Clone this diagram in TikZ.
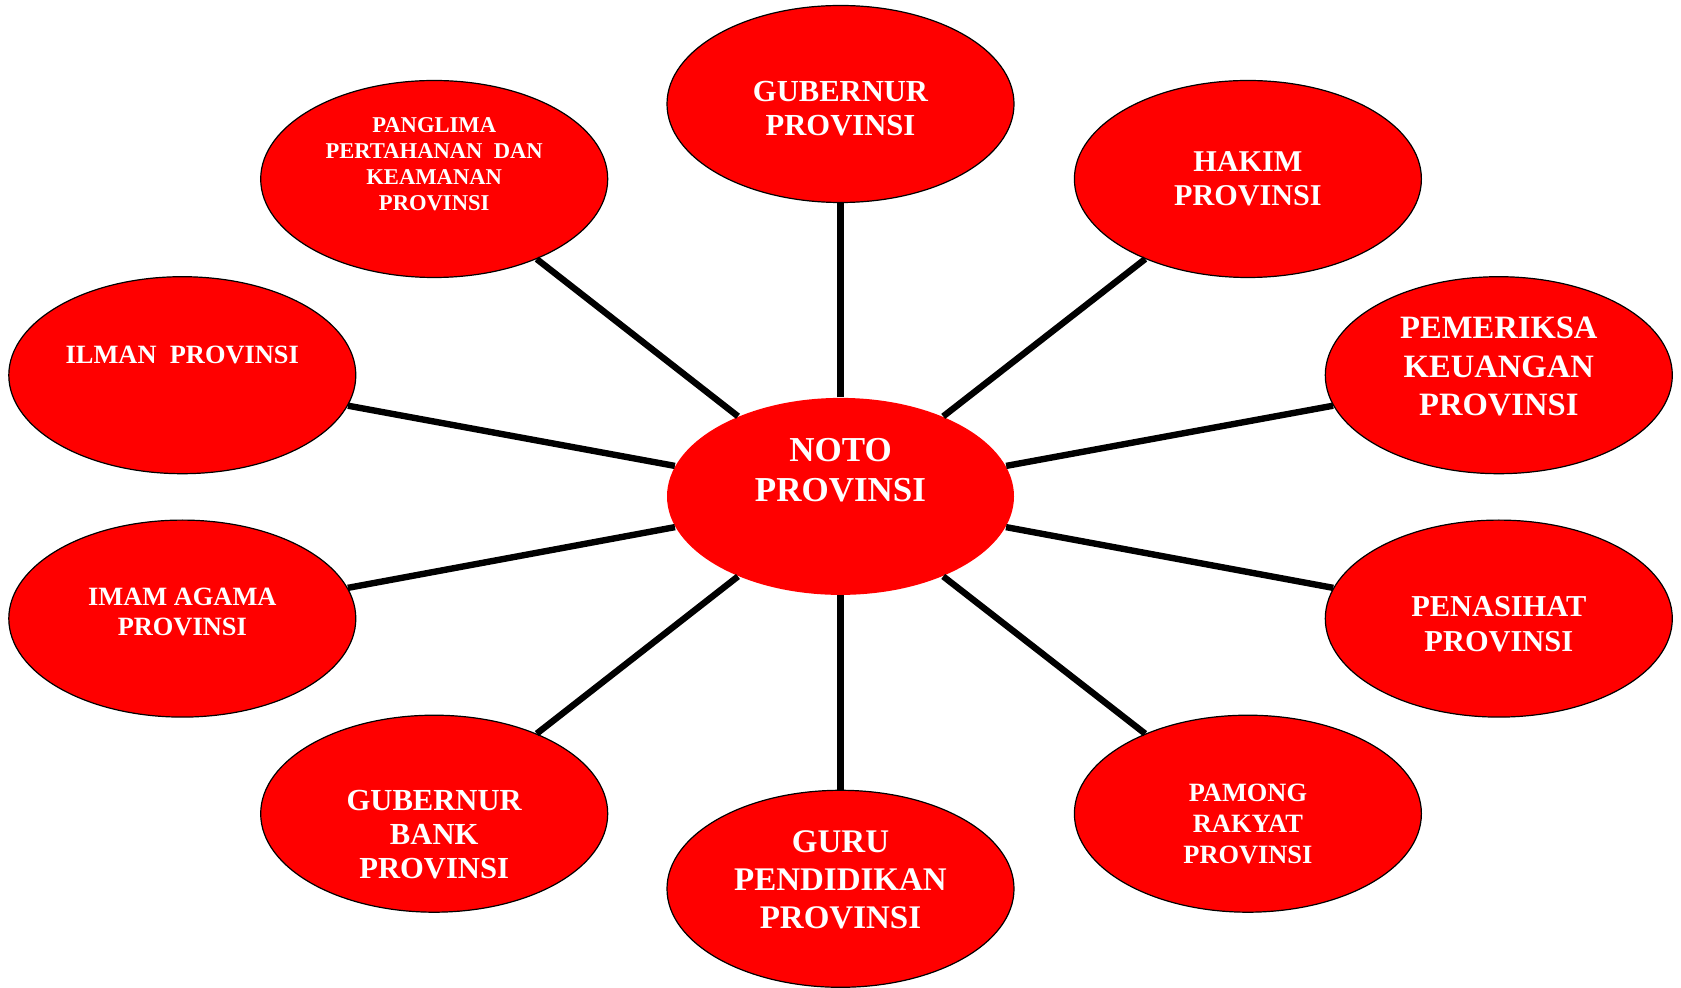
\documentclass[tikz,border=0pt]{standalone}
\usepackage{fontspec}
\setmainfont{Liberation Serif}
\usetikzlibrary{shapes.geometric}
\tikzset{
    bubble/.style = {ellipse, draw = black, line width = 0.6pt, fill = red,
        minimum width = 173.5pt, minimum height = 98.5pt, inner sep = 0pt},
    caption/.style = {text = white, align = center, inner sep = 0pt},
    spoke/.style = {line width = 3.2pt}
}
\newcommand{\capfont}[2]{\bfseries\fontsize{#1}{#2}\selectfont}

\begin{document}
\begin{tikzpicture}[x = 0.5pt, y = -0.5pt]
    \useasboundingbox (0,0) rectangle (1681,988);
    \node[bubble, draw = none] (noto) at (840.5,496.4) {};
    \node[bubble] (gubernur) at (840.5,104) {};
    \node[bubble] (hakim) at (1247.9,179) {};
    \node[bubble] (panglima) at (434.2,179) {};
    \node[bubble] (ilman) at (182.3,375.2) {};
    \node[bubble] (pemeriksa) at (1498.8,375.2) {};
    \node[bubble] (imam) at (182.3,618.6) {};
    \node[bubble] (penasihat) at (1498.8,618.6) {};
    \node[bubble] (bank) at (434.2,813.7) {};
    \node[bubble] (pamong) at (1247.9,813.7) {};
    \node[bubble] (guru) at (840.5,888.8) {};
    \foreach \x in {gubernur, hakim, panglima, ilman, pemeriksa, imam, penasihat, bank, pamong, guru}
        \draw[spoke] (noto) -- (\x);
    \node[caption, font = \capfont{17.5}{20}] (noto-t) at (840.5,470) {NOTO\\PROVINSI};
    \node[caption, font = \capfont{15.3}{17}] (gubernur-t) at (840.5,108.5) {GUBERNUR\\PROVINSI};
    \node[caption, font = \capfont{15.1}{17}] (hakim-t) at (1247.9,179) {HAKIM\\PROVINSI};
    \node[caption, font = \capfont{11.3}{12.9}] (panglima-t) at (434.2,164) {PANGLIMA\\PERTAHANAN\ \ DAN\\KEAMANAN\\PROVINSI};
    \node[caption, font = \capfont{13.2}{15}] (ilman-t) at (182.3,354.5) {ILMAN\ \ PROVINSI};
    \node[caption, font = \capfont{16.3}{19.3}] (pemeriksa-t) at (1498.8,366.5) {PEMERIKSA\\KEUANGAN\\PROVINSI};
    \node[caption, font = \capfont{13.2}{15}] (imam-t) at (182.3,612) {IMAM AGAMA\\PROVINSI};
    \node[caption, font = \capfont{15.2}{17.5}] (penasihat-t) at (1498.8,624.5) {PENASIHAT\\PROVINSI};
    \node[caption, font = \capfont{15.3}{17}] (bank-t) at (434.2,835) {GUBERNUR\\BANK\\PROVINSI};
    \node[caption, font = \capfont{13.2}{15.3}] (pamong-t) at (1247.9,824) {PAMONG\\RAKYAT\\PROVINSI};
    \node[caption, font = \capfont{16.5}{19}] (guru-t) at (840.5,879.5) {GURU\\PENDIDIKAN\\PROVINSI};
\end{tikzpicture}
\end{document}
